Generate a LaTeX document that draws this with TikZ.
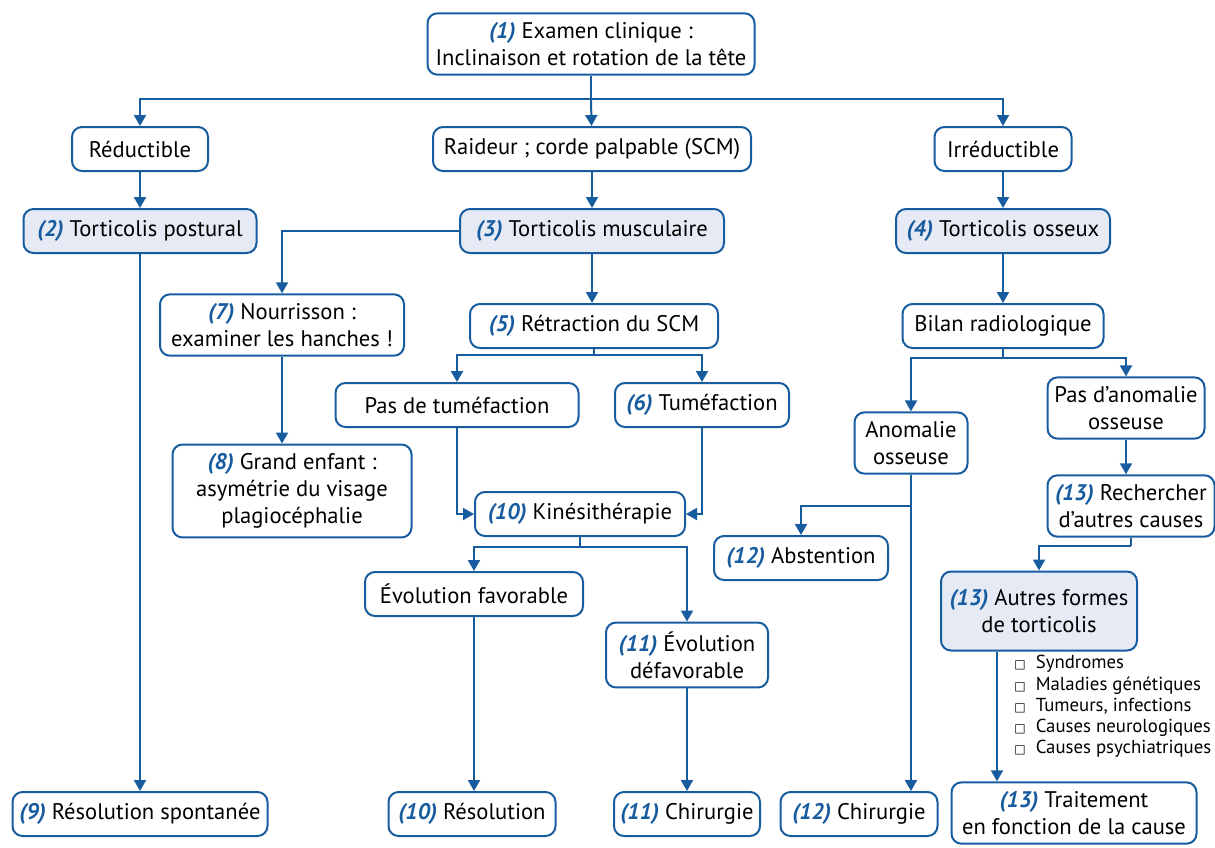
\documentclass[tikz,border=0pt]{standalone}
\usepackage{fontspec}
\setmainfont{PT Sans}
\newfontfamily\symfont{DejaVu Sans}
\usetikzlibrary{arrows.meta}
\definecolor{tblue}{RGB}{24,92,160}
\definecolor{tfill}{RGB}{229,234,244}
\newcommand\num[1]{{\color{tblue}\bfseries\itshape(#1)}}
\newcommand\sq{{\symfont\fontsize{6}{6}\selectfont□}\ \ }
\tikzset{
  box/.style={draw=tblue,line width=1pt,rounded corners=5pt,fill=white,align=center,
    minimum height=22pt,inner xsep=2pt,inner ysep=4.5pt,
    font=\fontsize{11.3}{13.5}\selectfont},
  key/.style={box,fill=tfill},
  link/.style={draw=tblue,line width=1pt},
  arr/.style={link,-{Triangle[width=6pt,length=5.5pt]}}
}
\begin{document}
\begin{tikzpicture}[x=0.5pt,y=-0.5pt]
\useasboundingbox (0,0) rectangle (1215,847);
\node[box,minimum width=163.5pt] (exam) at (591,44) {\num{1} Examen clinique :\\Inclinaison et rotation de la tête};
\node[box,minimum width=68pt] (reduc) at (140,149) {Réductible};
\node[box,minimum width=159pt] (raid) at (592,149) {Raideur ; corde palpable (SCM)};
\node[box,minimum width=68.5pt] (irred) at (1003,149) {Irréductible};
\node[key,minimum width=116.5pt] (post) at (140,231) {\num{2} Torticolis postural};
\node[key,minimum width=132pt] (musc) at (592,231) {\num{3} Torticolis musculaire};
\node[key,minimum width=107pt] (oss) at (1003,231) {\num{4} Torticolis osseux};
\node[box,minimum width=122pt] (nour) at (282,325) {\num{7} Nourrisson :\\examiner les hanches !};
\node[box,minimum width=124pt] (retr) at (594,326) {\num{5} Rétraction du SCM};
\node[box,minimum width=100.5pt] (bilan) at (1003,326) {Bilan radiologique};
\node[box,minimum width=121.5pt] (pastum) at (457,405) {Pas de tuméfaction};
\node[box,minimum width=87pt] (tumef) at (702,405) {\num{6} Tuméfaction};
\node[box,minimum width=56.5pt] (anom) at (911,443) {Anomalie\\osseuse};
\node[box,minimum width=78.5pt] (pasan) at (1126,408) {Pas d’anomalie\\osseuse};
\node[box,minimum width=119.5pt] (grand) at (292,491) {\num{8} Grand enfant :\\asymétrie du visage\\plagiocéphalie};
\node[box,minimum width=105pt] (kine) at (580,514) {\num{10} Kinésithérapie};
\node[box,minimum width=87pt] (abst) at (801,558) {\num{12} Abstention};
\node[box,minimum width=83.5pt] (rech) at (1131,506) {\num{13} Rechercher\\d’autres causes};
\node[box,minimum width=109pt] (evfav) at (474,594) {Évolution favorable};
\node[key,minimum width=98pt,minimum height=39.5pt] (autres) at (1039,611) {\num{13} Autres formes\\de torticolis};
\node[box,minimum width=81pt] (evdef) at (687,655) {\num{11} Évolution\\défavorable};
\node[anchor=north west,align=left,inner sep=0pt,font=\fontsize{9.4}{10.6}\selectfont] (causes) at (1014,655)
  {\sq Syndromes\\\sq Maladies génétiques\\\sq Tumeurs, infections\\\sq Causes neurologiques\\\sq Causes psychiatriques};
\node[box,minimum width=127.5pt] (spont) at (140,814) {\num{9} Résolution spontanée};
\node[box,minimum width=83.5pt] (resol) at (472,814) {\num{10} Résolution};
\node[box,minimum width=73pt] (chir11) at (687,814) {\num{11} Chirurgie};
\node[box,minimum width=78.5pt] (chir12) at (859,814) {\num{12} Chirurgie};
\node[box,minimum width=122.5pt] (trait) at (1074,813) {\num{13} Traitement\\en fonction de la cause};
\coordinate (j1) at (591,99);
\coordinate (j3) at (594,355);
\coordinate (j4) at (580,547);
\coordinate (j5) at (1003,358);
\coordinate (j6) at (911,506);
\coordinate (j7) at (1131,546);
\draw[link] (exam) -- (j1);
\draw[arr] (j1) -| (reduc);
\draw[arr] (j1) -- (raid);
\draw[arr] (j1) -| (irred);
\draw[arr] (reduc) -- (post);
\draw[arr] (raid) -- (musc);
\draw[arr] (irred) -- (oss);
\draw[arr] (post) -- (spont);
\draw[arr] (musc.west) -| (nour);
\draw[arr] (musc.south) -- (musc.south |- retr.north);
\draw[arr] (nour.south) -- (nour.south |- grand.north);
\draw[arr] (oss) -- (bilan);
\draw[link] (retr) -- (j3);
\draw[arr] (j3) -| (pastum);
\draw[arr] (j3) -| (tumef);
\draw[arr] (pastum) |- (kine);
\draw[arr] (tumef) |- (kine);
\draw[link] (kine) -- (j4);
\draw[arr] (j4) -| (evfav);
\draw[arr] (j4) -| (evdef);
\draw[arr] (evfav.south) -- (evfav.south |- resol.north);
\draw[arr] (evdef) -- (chir11);
\draw[link] (bilan) -- (j5);
\draw[arr] (j5) -| (anom);
\draw[arr] (j5) -| (pasan);
\draw[arr] (anom.south) -- (anom.south |- chir12.north);
\draw[arr] (j6) -| (abst);
\draw[arr] (pasan.south) -- (pasan.south |- rech.north);
\draw[link] (rech) -- (j7);
\draw[arr] (j7) -| (autres);
\draw[arr] ([xshift=-21pt]autres.south) -- ([xshift=-21pt]autres.south |- trait.north);
\end{tikzpicture}
\end{document}
